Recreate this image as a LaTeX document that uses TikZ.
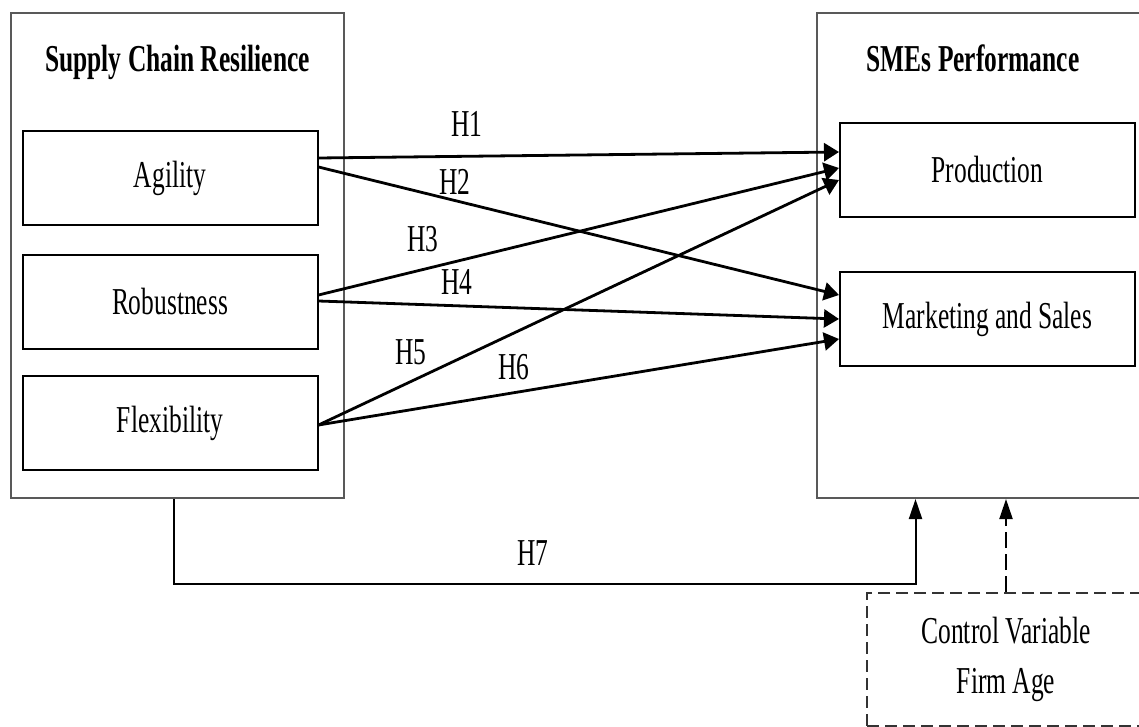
\documentclass[tikz,border=0pt]{standalone}
\usepackage{fontspec}
\setmainfont[FakeStretch=0.67]{Liberation Serif}
\usetikzlibrary{arrows.meta,positioning,calc}

\begin{document}
\begin{tikzpicture}[x=0.5pt,y=-0.5pt,>={Triangle[length=7.5pt,width=9pt]},
    every node/.style={font=\fontsize{19}{25}\selectfont},
    outer box/.style={draw=black!65,line width=1pt,minimum width=166.5pt,minimum height=242.5pt},
    main node/.style={draw,line width=1pt,minimum width=147.5pt,minimum height=47pt},
    hyp/.style={->,line width=1.4pt},
    link/.style={-{Triangle[length=10pt,width=6.5pt]},line width=1pt},
    ctrl box/.style={draw=black!80,line width=1pt,dash pattern=on 6pt off 3pt,minimum width=139pt,minimum height=66.5pt,align=center}]
    \useasboundingbox (0,0) rectangle (1139,727);
    \clip (0,0) rectangle (1139,727);
    % outer frames
    \node[outer box] (SCR) at (177,255.5) {};
    \node[outer box] (SMEs) at (983.5,255.5) {};
    \node[anchor=base,font=\fontsize{19}{25}\selectfont\bfseries] (SCRtitle) at (177.5,72) {Supply Chain Resilience};
    \node[anchor=base,font=\fontsize{19}{25}\selectfont\bfseries] (SMEstitle) at (973,72) {SMEs Performance};
    % dimensions
    \node[main node] (agility) at (170,178) {Agility};
    \node[main node,below=14pt of agility] (robust) {Robustness};
    \node[main node,below=12.5pt of robust] (flex) {Flexibility};
    \node[main node] (prod) at (987.5,170) {Production};
    \node[main node,below=26.5pt of prod] (market) {Marketing and Sales};
    % hypotheses
    \draw[hyp] ([yshift=10pt]agility.east) -- ([yshift=9pt]prod.west);
    \draw[hyp] ([yshift=5.5pt]agility.east) -- ([yshift=12pt]market.west);
    \draw[hyp] ([yshift=3.5pt]robust.east) -- ([yshift=1pt]prod.west);
    \draw[hyp] ([yshift=0.5pt]robust.east) -- (market.west);
    \draw[hyp] ([yshift=-1pt]flex.east) -- ([yshift=-5pt]prod.west);
    \draw[hyp] ([yshift=-1pt]flex.east) -- ([yshift=-10pt]market.west);
    \node (h1) at (467,124) {H1};
    \node (h2) at (455,182) {H2};
    \node (h3) at (423,239) {H3};
    \node (h4) at (457,282) {H4};
    \node (h5) at (411,352) {H5};
    \node (h6) at (514,367) {H6};
    % direct effect
    \draw[link] ([xshift=-1.5pt]SCR.south) -- ++(0,85) -| ([xshift=-34pt]SMEs.south);
    \node (h7) at (533,553) {H7};
    % control variable
    \node[ctrl box] (ctrl) at (1006,659.5) {Control Variable\\Firm Age};
    \draw[link,dash pattern=on 8pt off 3pt] (ctrl.north) -- (ctrl.north |- SMEs.south);
\end{tikzpicture}
\end{document}
